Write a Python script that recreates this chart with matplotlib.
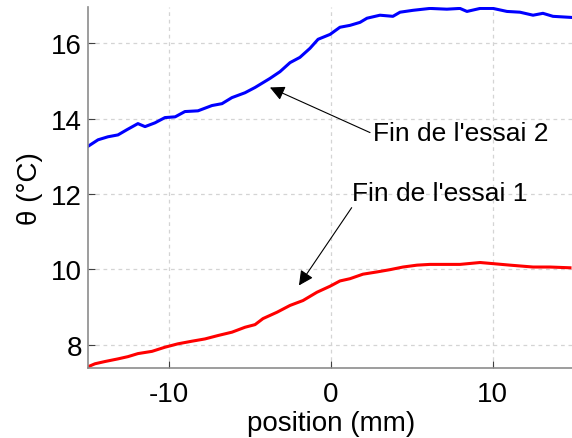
import matplotlib
matplotlib.use("Agg")
import matplotlib.pyplot as plt

# essai 2 (bleu)
pos_2 = [-15.04, -14.36, -13.75, -13.13, -12.57, -11.90, -11.46, -10.85, -10.23, -9.60,
         -9.00, -8.19, -7.33, -6.71, -6.10, -5.29, -4.67, -3.75, -3.13, -2.51,
         -1.90, -1.28, -0.78, -0.04, 0.57, 1.19, 1.81, 2.24, 3.04, 3.84,
         4.28, 5.08, 6.13, 7.17, 7.98, 8.41, 9.22, 10.02, 10.88, 11.68,
         12.49, 13.10, 13.72, 14.89]
temp_2 = [13.25, 13.44, 13.52, 13.57, 13.71, 13.87, 13.79, 13.89, 14.03, 14.05,
          14.19, 14.21, 14.35, 14.40, 14.56, 14.69, 14.83, 15.07, 15.25, 15.49,
          15.63, 15.87, 16.11, 16.24, 16.43, 16.48, 16.56, 16.67, 16.75, 16.72,
          16.83, 16.88, 16.93, 16.91, 16.93, 16.85, 16.93, 16.93, 16.85, 16.83,
          16.75, 16.80, 16.72, 16.69]

# essai 1 (rouge)
pos_1 = [-15.04, -14.55, -13.93, -13.13, -12.51, -11.90, -11.03, -10.23, -9.43, -8.56,
         -7.76, -6.96, -6.09, -5.29, -4.67, -4.18, -3.31, -2.51, -1.71, -0.85,
         -0.04, 0.57, 1.19, 1.99, 2.86, 3.66, 4.46, 5.33, 6.13, 7.98,
         9.22, 10.02, 11.07, 12.49, 13.54, 14.77]
temp_1 = [7.40, 7.49, 7.55, 7.62, 7.68, 7.76, 7.82, 7.93, 8.02, 8.09,
          8.15, 8.24, 8.33, 8.46, 8.53, 8.69, 8.86, 9.04, 9.17, 9.39,
          9.55, 9.69, 9.75, 9.87, 9.93, 9.99, 10.06, 10.11, 10.13, 10.13,
          10.18, 10.15, 10.11, 10.06, 10.06, 10.04]

x_ticks = [-10, 0, 10]
y_ticks = [8, 10, 12, 14, 16]

plt.rcParams["font.family"] = ["Liberation Sans", "DejaVu Sans"]
plt.rcParams["axes.unicode_minus"] = False

fig = plt.figure(figsize=(5.72, 4.39), dpi=100)
ax = fig.add_axes([0.1533, 0.1588, 0.8497, 0.8223])

ax.plot(pos_2, temp_2, color="#0000ff", lw=2.2)
ax.plot(pos_1, temp_1, color="#ff0000", lw=2.2)

ax.set_xlim(-15, 15)
ax.set_ylim(7.37, 16.96)
ax.set_xticks(x_ticks)
ax.set_yticks(y_ticks)

ax.grid(True, linestyle=(0, (3, 3)), color="#d4d4d4", lw=0.9)
ax.set_axisbelow(True)

for side in ["top", "right"]:
    ax.spines[side].set_visible(False)
for side in ["left", "bottom"]:
    ax.spines[side].set_color("#8c8c8c")
    ax.spines[side].set_linewidth(1.2)

ax.tick_params(direction="in", length=5, width=0.8, color="#404040",
               labelsize=20, pad=4)
ax.tick_params(axis="x", pad=9)

ax.set_xlabel("position (mm)", fontsize=20, labelpad=2)
ax.set_ylabel("θ (°C)", fontsize=20, labelpad=6)

# fleches : partent du bord gauche du texte
ax.annotate("Fin de l'essai 2", xy=(-3.75, 14.83), xytext=(2.6, 13.63),
            fontsize=19, va="center", ha="left",
            arrowprops=dict(arrowstyle="-|>", color="black", lw=0.8,
                            mutation_scale=22, shrinkA=0, shrinkB=0,
                            relpos=(0.0, 0.45)))
ax.annotate("Fin de l'essai 1", xy=(-1.96, 9.57), xytext=(1.31, 12.03),
            fontsize=19, va="center", ha="left",
            arrowprops=dict(arrowstyle="-|>", color="black", lw=0.8,
                            mutation_scale=22, shrinkA=0, shrinkB=0,
                            relpos=(0.0, -0.1)))

fig.savefig("out.png", dpi=100)
